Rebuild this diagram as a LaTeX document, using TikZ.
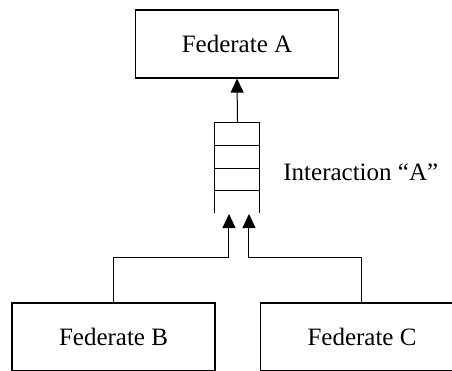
\documentclass[tikz,border=0pt]{standalone}
\usepackage{fontspec}
\setmainfont{Liberation Serif}
\usetikzlibrary{arrows.meta}

\begin{document}
\begin{tikzpicture}[x=0.5pt, y=-0.5pt,
			fed/.style={rectangle, draw=black, line width=0.6pt, inner sep=0pt,
				minimum width=101.5pt, minimum height=34pt, font=\fontsize{12.5}{15}\selectfont},
			lbl/.style={inner sep=0pt, font=\fontsize{12.5}{15}\selectfont},
			arr/.style={-{Triangle[length=7pt, width=6.5pt]}, draw=black, line width=0.5pt}
			]
			\useasboundingbox (0,0) rectangle (452,371);
			\node[fed] (fa) at (237,44) {Federate A};
			\node[fed] (fb) at (113.5,337) {Federate B};
			\node[fed] (fc) at (362,337) {Federate C};
			
			% message queue
			\coordinate (qtop) at (237.5,122);
			\coordinate (inb) at (229,214);
			\coordinate (inc) at (249,214);
			\draw[line width=0.5pt] (215,213) -- (215,122) -- (260,122) -- (260,213);
			\foreach \y in {145,168,190}
				\draw[line width=0.5pt] (215,\y) -- (260,\y);
			\node[lbl, anchor=west] (intr) at (283,172) {Interaction “A”};
			
			\draw[arr] (qtop) -- (fa.south);
			\draw[arr] (fb.north) -- ++(0,-45) -| (inb);
			\draw[arr] (fc.north) -- ++(0,-45) -| (inc);
		\end{tikzpicture}
\end{document}
